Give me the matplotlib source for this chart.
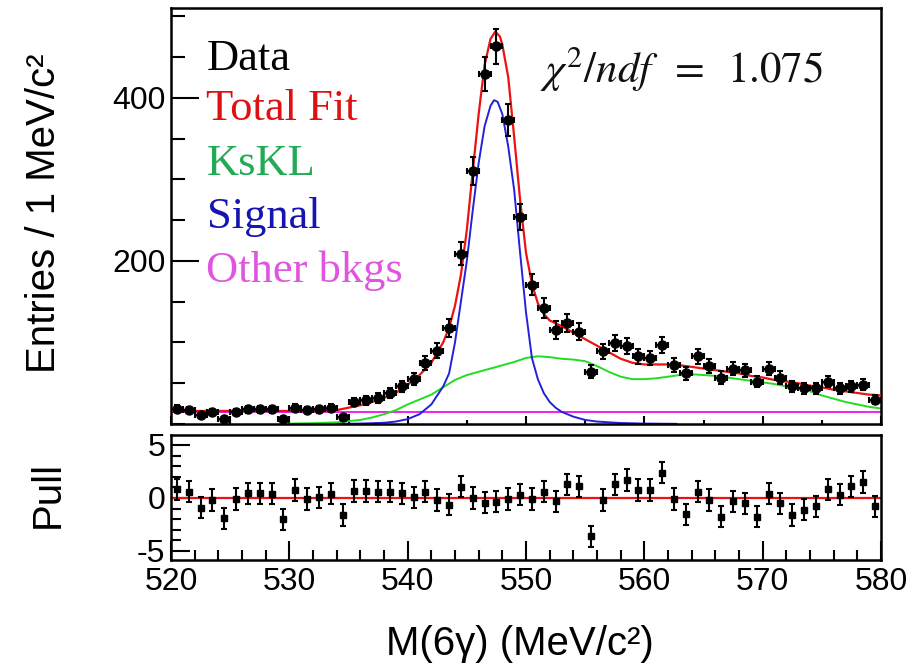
import numpy as np
import matplotlib
matplotlib.use('Agg')
from matplotlib import pyplot as plt
from matplotlib.ticker import MultipleLocator

plt.rcParams['axes.unicode_minus'] = False

# data histogram (1 MeV bins)
bin_centers = np.arange(520.5, 580.0, 1.0)
entries = [19, 17, 11, 15, 6, 15, 18, 18, 18, 6,
           20, 17, 18, 20, 8, 27, 29, 32, 38, 46,
           55, 75, 90, 118, 209, 310, 429, 463, 373, 254,
           171, 142, 115, 124, 113, 64, 89, 99, 96, 83,
           81, 97, 72, 62, 83, 71, 57, 68, 66, 52,
           68, 57, 46, 44, 44, 52, 44, 46, 48, 30]
pulls = [0.8, 0.6, -0.9, -0.2, -1.9, -0.1, 0.45, 0.45, 0.4, -2.0,
         0.75, -0.1, 0.05, 0.4, -1.6, 0.65, 0.65, 0.6, 0.6, 0.45,
         0.05, 0.6, -0.2, -0.65, 1.05, 0.0, -0.45, -0.35, -0.1, 0.3,
         -0.1, 0.6, -0.3, 1.3, 1.1, -3.6, -0.2, 1.3, 1.7, 0.75,
         0.75, 2.4, -0.1, -1.55, 0.6, -0.2, -1.75, -0.3, -0.5, -1.75,
         0.4, -0.5, -1.6, -1.1, -0.8, 0.8, 0.3, 1.1, 1.5, -0.8]

# fit curves
total_x = [520, 530, 533, 534, 535, 536, 537, 538, 539, 540, 541, 542, 543, 543.5,
           544, 544.5, 545, 545.5, 546, 546.5, 547, 547.4, 547.8, 548, 548.5, 549,
           549.5, 550, 550.5, 551, 551.5, 552, 553, 554, 555, 556, 557, 558, 559,
           560, 561, 562, 563, 564, 565, 566, 567, 568, 569, 570, 571, 572, 573,
           574, 575, 576, 577, 578, 579, 580]
total_y = [16, 16, 16.5, 17, 20, 23, 27, 32, 38, 48, 60, 75, 100, 118,
           145, 183, 238, 310, 380, 440, 472, 481, 475, 465, 425, 352,
           275, 210, 172, 148, 135, 127, 120, 112, 104, 96, 88, 80, 75,
           73, 73, 73, 72, 70, 68, 66, 64, 62, 59, 57, 54, 52, 50,
           47, 45, 42, 40, 38, 36, 35]

ksl_x = [530, 532, 534, 536, 537, 538, 539, 540, 541, 542, 543, 544, 545, 546,
         547, 548, 549, 550, 551, 552, 553, 554, 555, 556, 557, 558, 559, 560,
         561, 562, 563, 564, 565, 566, 567, 568, 569, 570, 571, 572, 573, 574,
         575, 576, 577, 578, 579, 580]
ksl_y = [0.5, 1, 2, 5, 8, 12, 17, 24, 30, 36, 45, 54, 60, 64,
         68, 72, 76, 81, 83, 82, 80, 79, 77, 71, 64, 58, 55, 55,
         56, 58, 60, 61, 60, 59, 57, 55, 53, 51, 49, 46, 44, 40,
         35, 31, 27, 24, 21, 19]

sig_x = [534, 536, 538, 539, 540, 541, 542, 543, 543.5, 544, 544.5, 545, 545.5,
         546, 546.5, 547, 547.3, 547.6, 548, 548.5, 549, 549.5, 550, 550.5,
         551, 551.5, 552, 552.5, 553, 554, 555, 556, 558, 560, 562.7]
sig_y = [0, 0.5, 1.5, 3, 6, 12, 24, 46, 62, 100, 150, 200, 262,
         320, 365, 390, 397, 395, 380, 340, 287, 210, 137, 81,
         55, 38, 27, 20, 15, 9, 5, 3, 1.2, 0.5, 0.2]

other_x = [520, 580]
other_y = [15, 15]

fig = plt.figure(figsize=(9.17, 6.66), dpi=100)
ax = fig.add_axes([171 / 917, 1 - 424 / 666, 710 / 917, 416 / 666])
axp = fig.add_axes([171 / 917, 1 - 560 / 666, 710 / 917, 125 / 666])

# main panel
ax.plot(other_x, other_y, color='#ee22ee', lw=1.4, zorder=2)
ax.plot(ksl_x, ksl_y, color='#22dd22', lw=1.4, zorder=2)
ax.plot(sig_x, sig_y, color='#2222dd', lw=1.4, zorder=2)
ax.plot(total_x, total_y, color='#ee1111', lw=1.6, zorder=3)
ax.errorbar(bin_centers, entries, yerr=np.sqrt(entries), xerr=0.5, fmt='o',
            color='black', ms=6.5, elinewidth=1.5, capsize=2.5, capthick=1.5, zorder=4)

ax.set_xlim(520, 580)
ax.set_ylim(0, 510)
ax.set_yticks([200, 400])
ax.yaxis.set_minor_locator(MultipleLocator(50))
ax.xaxis.set_major_locator(MultipleLocator(10))
ax.xaxis.set_minor_locator(MultipleLocator(5))
ax.tick_params(axis='both', which='both', direction='in', top=False, right=False)
ax.tick_params(axis='y', which='major', length=20, width=1.5, labelsize=23, pad=4)
ax.tick_params(axis='y', which='minor', length=10, width=1.5)
ax.tick_params(axis='x', which='major', length=6, width=1.5, labelbottom=False)
ax.tick_params(axis='x', which='minor', length=3, width=1.5)
for lab in ax.get_yticklabels():
    lab.set_family('Liberation Sans')

serif = 'Liberation Serif'
ax.text(0.05, 0.851, 'Data', color='black', fontsize=32, family=serif,
        transform=ax.transAxes, va='baseline')
ax.text(0.05, 0.731, 'Total Fit', color='#dd1111', fontsize=32, family=serif,
        transform=ax.transAxes, va='baseline')
ax.text(0.05, 0.599, 'KsKL', color='#22aa55', fontsize=32, family=serif,
        transform=ax.transAxes, va='baseline')
ax.text(0.05, 0.471, 'Signal', color='#1515b0', fontsize=32, family=serif,
        transform=ax.transAxes, va='baseline')
ax.text(0.05, 0.341, 'Other bkgs', color='#e055e0', fontsize=32, family=serif,
        transform=ax.transAxes, va='baseline')
ax.text(0.52, 0.82, r'$\chi^2/ndf\;\;=\;\;1.075$', color='#111111', fontsize=31,
        math_fontfamily='stix', transform=ax.transAxes, va='baseline')

# pull panel
axp.axhline(0, color='#ee1111', lw=1.6, zorder=2)
axp.errorbar(bin_centers, pulls, yerr=1.0, fmt='s', color='black', ms=4,
             elinewidth=1.5, capsize=2.5, capthick=1.5, zorder=3)
axp.set_xlim(520, 580)
axp.set_ylim(-5.85, 5.94)
axp.set_yticks([-5, 0, 5])
axp.yaxis.set_minor_locator(MultipleLocator(1))
axp.xaxis.set_major_locator(MultipleLocator(10))
axp.xaxis.set_minor_locator(MultipleLocator(2))
axp.tick_params(axis='both', which='both', direction='in', top=False, right=False)
axp.tick_params(axis='both', which='major', length=14, width=1.5, labelsize=23)
axp.tick_params(axis='both', which='minor', length=7, width=1.5)
axp.tick_params(axis='x', which='major', pad=5)
axp.tick_params(axis='y', which='major', pad=4)
for lab in axp.get_xticklabels() + axp.get_yticklabels():
    lab.set_family('Liberation Sans')

for a in (ax, axp):
    for s in a.spines.values():
        s.set_linewidth(1.8)

fig.text(0.048, 0.68, 'Entries / 1 MeV/c²', rotation=90, fontsize=29,
         family='Liberation Sans', ha='center', va='center')
fig.text(0.052, 0.2575, 'Pull', rotation=90, fontsize=29,
         family='Liberation Sans', ha='center', va='center')
fig.text(0.567, 0.0165, 'M(6γ) (MeV/c²)', fontsize=29,
         family='Liberation Sans', ha='center', va='baseline')

fig.savefig('out.png', dpi=100)
